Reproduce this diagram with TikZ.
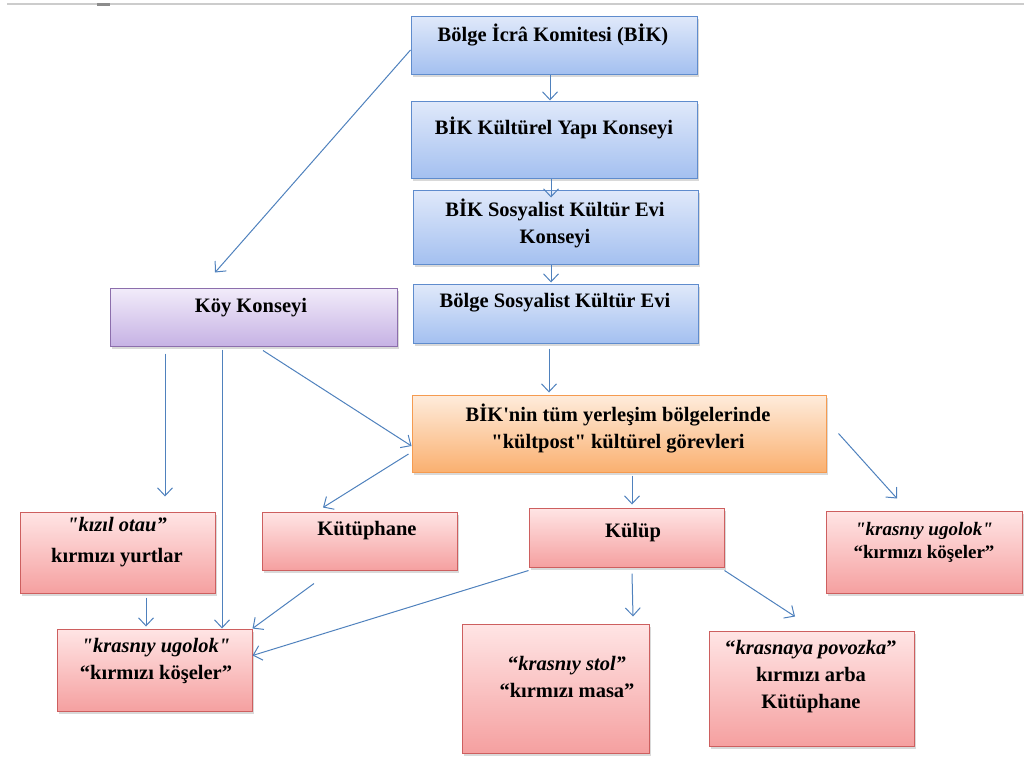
\documentclass[tikz,border=0pt]{standalone}
\usepackage{fontspec}
\setmainfont{Liberation Serif}[Ligatures=TeXOff]
\usetikzlibrary{arrows.meta,shadows}
\definecolor{blueTop}{RGB}{224,233,250}
\definecolor{blueBot}{RGB}{164,192,240}
\definecolor{blueLine}{RGB}{95,140,205}
\definecolor{purpleTop}{RGB}{242,236,250}
\definecolor{purpleBot}{RGB}{198,178,228}
\definecolor{purpleLine}{RGB}{140,110,172}
\definecolor{orangeTop}{RGB}{254,236,220}
\definecolor{orangeBot}{RGB}{250,176,112}
\definecolor{orangeLine}{RGB}{245,155,80}
\definecolor{redTop}{RGB}{255,229,229}
\definecolor{redBot}{RGB}{245,160,160}
\definecolor{redLine}{RGB}{205,95,95}
\definecolor{arrowBlue}{RGB}{79,129,189}

\begin{document}
\begin{tikzpicture}[x=1pt,y=-1pt,
    box/.style={rectangle, inner sep=0pt, line width=1pt,
      drop shadow={shadow xshift=2pt, shadow yshift=-2.5pt, opacity=0.3}},
    bluebox/.style={box, draw=blueLine, top color=blueTop, bottom color=blueBot},
    purplebox/.style={box, draw=purpleLine, top color=purpleTop, bottom color=purpleBot},
    orangebox/.style={box, draw=orangeLine, top color=orangeTop, bottom color=orangeBot},
    redbox/.style={box, draw=redLine, top color=redTop, bottom color=redBot},
    txt/.style={font=\bfseries\fontsize{20.5}{27}\selectfont, align=center, inner sep=0pt},
    conn/.style={draw=arrowBlue, line width=1pt, -{Straight Barb[length=8pt,width=15pt]}}]
  \useasboundingbox (0,0) rectangle (1024,756);
  \draw[black!20, line width=2.5pt] (7,4) -- (1024,4);
  \fill[black!45] (97,2.5) rectangle (110,6);

  \node[bluebox, minimum width=286pt, minimum height=58pt] (bik) at (554,45) {};
  \node[bluebox, minimum width=286pt, minimum height=77pt] (kyk) at (554,139.5) {};
  \node[bluebox, minimum width=285pt, minimum height=74pt] (skek) at (555.5,227) {};
  \node[bluebox, minimum width=285pt, minimum height=59pt] (bske) at (555.5,313.5) {};
  \node[purplebox, minimum width=287pt, minimum height=58pt] (koy) at (253.5,317) {};
  \node[orangebox, minimum width=414pt, minimum height=77pt] (gorev) at (619,433.5) {};
  \node[redbox, minimum width=195pt, minimum height=81pt] (otau) at (117.5,552.5) {};
  \node[redbox, minimum width=195pt, minimum height=58pt] (kutup) at (359.5,541) {};
  \node[redbox, minimum width=195pt, minimum height=82pt] (ugolokl) at (154.5,670) {};
  \node[redbox, minimum width=195pt, minimum height=59pt] (kulup) at (626.5,537.5) {};
  \node[redbox, minimum width=187pt, minimum height=129pt] (stol) at (555.5,688.5) {};
  \node[redbox, minimum width=205pt, minimum height=115pt] (povozka) at (811.5,688.5) {};
  \node[redbox, minimum width=196pt, minimum height=82pt] (ugolokr) at (924,552) {};

  \node[txt] (bik-t) at (553,35) {Bölge İcrâ Komitesi (BİK)};
  \node[txt] (kyk-t) at (554,128) {BİK Kültürel Yapı Konseyi};
  \node[txt] (skek-t) at (555,223.5) {BİK Sosyalist Kültür Evi\\Konseyi};
  \node[txt] (bske-t) at (555,303) {Bölge Sosyalist Kültür Evi};
  \node[txt] (koy-t) at (251,308) {Köy Konseyi};
  \node[txt] (gorev-t) at (618,428.5) {BİK'nin tüm yerleşim bölgelerinde\\"kültpost" kültürel görevleri};
  \node[txt] (otau-t) at (117,542.5) {\textit{"kızıl otau”}\\[4pt]kırmızı yurtlar};
  \node[txt] (kutup-t) at (367,531) {Kütüphane};
  \node[txt] (ugolokl-t) at (156,661) {\textit{"krasnıy ugolok"}\\“kırmızı köşeler”};
  \node[txt] (kulup-t) at (633,533) {Külüp};
  \node[txt] (stol-t) at (567,677) {“\textit{krasnıy stol”}\\“kırmızı masa”};
  \node[txt] (povozka-t) at (811,677) {“\textit{krasnaya povozka}”\\kırmızı arba\\Kütüphane};
  \node[txt, font=\bfseries\fontsize{19}{23}\selectfont] (ugolokr-t) at (924,542) {\textit{"krasnıy ugolok"}\\“kırmızı köşeler”};

  \draw[conn] ([xshift=-4pt]bik.south) -- ([xshift=-4pt]kyk.north);
  \draw[conn] ([xshift=-3pt]kyk.south) -- ([xshift=-4.5pt,yshift=-8pt]skek.north);
  \draw[conn] ([xshift=-4.5pt]skek.south) -- ([xshift=-4.5pt,yshift=1pt]bske.north);
  \draw[conn] ([xshift=-6.5pt,yshift=-5pt]bske.south) -- ([xshift=-70pt,yshift=2pt]gorev.north);
  \draw[conn] ([yshift=-5pt]bik.west) -- ([xshift=-38.5pt,yshift=15pt]koy.north);
  \draw[conn] ([xshift=-88.5pt,yshift=-7pt]koy.south) -- ([xshift=47.5pt,yshift=15pt]otau.north);
  \draw[conn] ([xshift=-31.5pt,yshift=-3pt]koy.south) -- ([xshift=67.5pt]ugolokl.north);
  \draw[conn] ([xshift=9.5pt,yshift=-4pt]koy.south) -- ([yshift=-12.5pt]gorev.west);
  \draw[conn] ([xshift=-3pt,yshift=-20.5pt]gorev.west) -- ([xshift=-36.5pt,yshift=4pt]kutup.north);
  \draw[conn] ([xshift=13pt,yshift=-3pt]gorev.south) -- ([xshift=5.5pt,yshift=3pt]kulup.north);
  \draw[conn] ([xshift=12pt]gorev.east) -- ([xshift=-27pt,yshift=12pt]ugolokr.north);
  \draw[conn] ([xshift=28.5pt,yshift=-4pt]otau.south) -- ([xshift=-8.5pt,yshift=2pt]ugolokl.north);
  \draw[conn] ([xshift=-45.5pt,yshift=-13pt]kutup.south) -- (ugolokl.north east);
  \draw[conn] ([yshift=-3pt]kulup.south west) -- ([yshift=-27pt]ugolokl.north east);
  \draw[conn] ([xshift=5.5pt,yshift=-6pt]kulup.south) -- ([xshift=77.5pt,yshift=7pt]stol.north);
  \draw[conn] ([yshift=-3pt]kulup.south east) -- ([xshift=-16.5pt,yshift=14pt]povozka.north);
\end{tikzpicture}
\end{document}
